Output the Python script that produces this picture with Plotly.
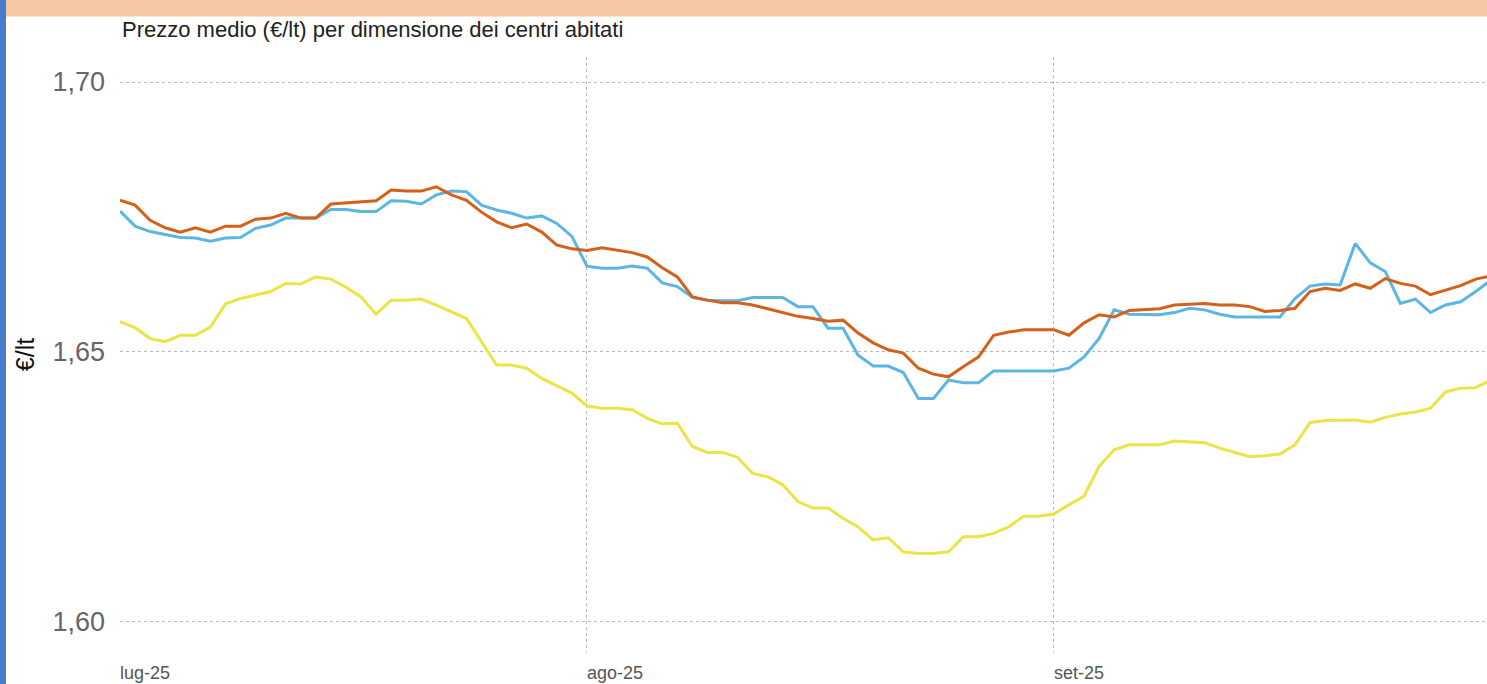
import pandas as pd
import plotly.graph_objects as go

# Daily dates: 1 July 2025 .. 30 September 2025
dates = pd.date_range("2025-07-01", "2025-09-30", freq="D")

# Prezzo medio (€/lt) - serie arancione
orange_vals = [
    1.6781, 1.6772, 1.6744, 1.6730, 1.6722, 1.6730, 1.6722, 1.6733, 1.6733, 1.6746,
    1.6748, 1.6757, 1.6748, 1.6748, 1.6774, 1.6776, 1.6778, 1.6780, 1.6800, 1.6798,
    1.6798, 1.6806, 1.6791, 1.6781, 1.6759, 1.6741, 1.6730, 1.6737, 1.6722, 1.6698,
    1.6691, 1.6688, 1.6693, 1.6689, 1.6684, 1.6676, 1.6656, 1.6639, 1.6602, 1.6596,
    1.6591, 1.6591, 1.6587, 1.6580, 1.6573, 1.6566, 1.6562, 1.6557, 1.6559, 1.6535,
    1.6517, 1.6504, 1.6498, 1.6470, 1.6459, 1.6454, 1.6473, 1.6491, 1.6531, 1.6537,
    1.6541, 1.6541, 1.6541, 1.6531, 1.6554, 1.6569, 1.6565, 1.6577, 1.6578, 1.6580,
    1.6587, 1.6589, 1.6590, 1.6587, 1.6587, 1.6584, 1.6575, 1.6577, 1.6581, 1.6612,
    1.6618, 1.6614, 1.6626, 1.6618, 1.6636, 1.6627, 1.6622, 1.6606, 1.6615, 1.6623,
    1.6635, 1.6641,
]

# serie azzurra
blue_vals = [
    1.6761, 1.6733, 1.6723, 1.6717, 1.6712, 1.6711, 1.6705, 1.6711, 1.6712, 1.6729,
    1.6735, 1.6748, 1.6748, 1.6748, 1.6764, 1.6764, 1.6760, 1.6760, 1.6780, 1.6779,
    1.6774, 1.6791, 1.6798, 1.6797, 1.6772, 1.6763, 1.6757, 1.6748, 1.6752, 1.6738,
    1.6714, 1.6659, 1.6655, 1.6655, 1.6659, 1.6655, 1.6628, 1.6621, 1.6601, 1.6596,
    1.6595, 1.6595, 1.6601, 1.6601, 1.6601, 1.6584, 1.6584, 1.6544, 1.6544, 1.6494,
    1.6474, 1.6474, 1.6462, 1.6414, 1.6414, 1.6448, 1.6443, 1.6443, 1.6465, 1.6465,
    1.6465, 1.6465, 1.6465, 1.6470, 1.6491, 1.6525, 1.6578, 1.6570, 1.6569, 1.6569,
    1.6573, 1.6581, 1.6578, 1.6570, 1.6565, 1.6565, 1.6565, 1.6565, 1.6599, 1.6622,
    1.6626, 1.6624, 1.6701, 1.6665, 1.6649, 1.6590, 1.6598, 1.6573, 1.6587, 1.6593,
    1.6612, 1.6633,
]

# serie gialla
yellow_vals = [
    1.6556, 1.6545, 1.6525, 1.6519, 1.6531, 1.6531, 1.6546, 1.6589, 1.6599, 1.6606,
    1.6612, 1.6627, 1.6626, 1.6639, 1.6635, 1.6620, 1.6602, 1.6570, 1.6596, 1.6596,
    1.6598, 1.6587, 1.6575, 1.6562, 1.6519, 1.6476, 1.6476, 1.6470, 1.6451, 1.6437,
    1.6424, 1.6400, 1.6396, 1.6396, 1.6393, 1.6377, 1.6367, 1.6368, 1.6325, 1.6314,
    1.6314, 1.6305, 1.6275, 1.6269, 1.6254, 1.6223, 1.6211, 1.6211, 1.6192, 1.6176,
    1.6152, 1.6156, 1.6130, 1.6127, 1.6127, 1.6130, 1.6158, 1.6158, 1.6164, 1.6176,
    1.6196, 1.6196, 1.6200, 1.6217, 1.6233, 1.6288, 1.6319, 1.6328, 1.6328, 1.6328,
    1.6335, 1.6333, 1.6332, 1.6322, 1.6314, 1.6306, 1.6308, 1.6311, 1.6328, 1.6369,
    1.6373, 1.6374, 1.6374, 1.6370, 1.6379, 1.6385, 1.6389, 1.6396, 1.6426, 1.6433,
    1.6434, 1.6448,
]

x_tickvals = ["2025-07-01", "2025-08-01", "2025-09-01"]
x_ticktext = ["lug-25", "ago-25", "set-25"]
y_tickvals = [1.60, 1.65, 1.70]

fig = go.Figure()
fig.add_trace(go.Scatter(x=dates, y=yellow_vals, mode="lines",
                         line=dict(color="#ece446", width=3)))
fig.add_trace(go.Scatter(x=dates, y=blue_vals, mode="lines",
                         line=dict(color="#5bb6e3", width=3)))
fig.add_trace(go.Scatter(x=dates, y=orange_vals, mode="lines",
                         line=dict(color="#d4601a", width=3)))

grid = dict(showgrid=True, gridcolor="#b8b8b8", griddash="dot", gridwidth=1,
            zeroline=False, showline=False)

fig.update_layout(
    width=1487, height=684,
    margin=dict(l=120, r=0, t=57, b=32),
    paper_bgcolor="white", plot_bgcolor="white",
    showlegend=False,
    separators=",.",
    font=dict(family="Liberation Sans, Arial, sans-serif"),
    xaxis=dict(
        **grid,
        range=["2025-07-01", "2025-09-29 18:00"],
        tickvals=x_tickvals, ticktext=x_ticktext,
        ticklabelposition="outside right",
        ticklabelstandoff=8,
        tickfont=dict(size=18, color="#555555"),
        ticks="", ticklen=0,
    ),
    yaxis=dict(
        **grid,
        range=[1.59444, 1.70463],
        tickvals=y_tickvals, tickformat=".2f",
        tickfont=dict(size=27, color="#666666"),
        ticklabelstandoff=14,
        title=dict(text="€/lt", font=dict(size=25, color="#111111"), standoff=10),
    ),
    shapes=[
        dict(type="rect", xref="paper", yref="paper",
             x0=-0.09, x1=1.0, y0=1.068, y1=1.1, fillcolor="#f7c8a4",
             line=dict(width=0), layer="above"),
        dict(type="rect", xref="paper", yref="paper",
             x0=-0.09, x1=-0.0834, y0=-0.06, y1=1.1, fillcolor="#4a7bcc",
             line=dict(width=0), layer="above"),
    ],
    annotations=[
        dict(text="Prezzo medio (€/lt) per dimensione dei centri abitati",
             xref="paper", yref="paper", x=0, y=1.0, xanchor="left", yanchor="bottom",
             yshift=13, showarrow=False, font=dict(size=22, color="#222222")),
    ],
)

fig.write_html("out.html", config={"displayModeBar": False},
               post_script="document.body.style.margin='0';document.body.style.padding='0';")
